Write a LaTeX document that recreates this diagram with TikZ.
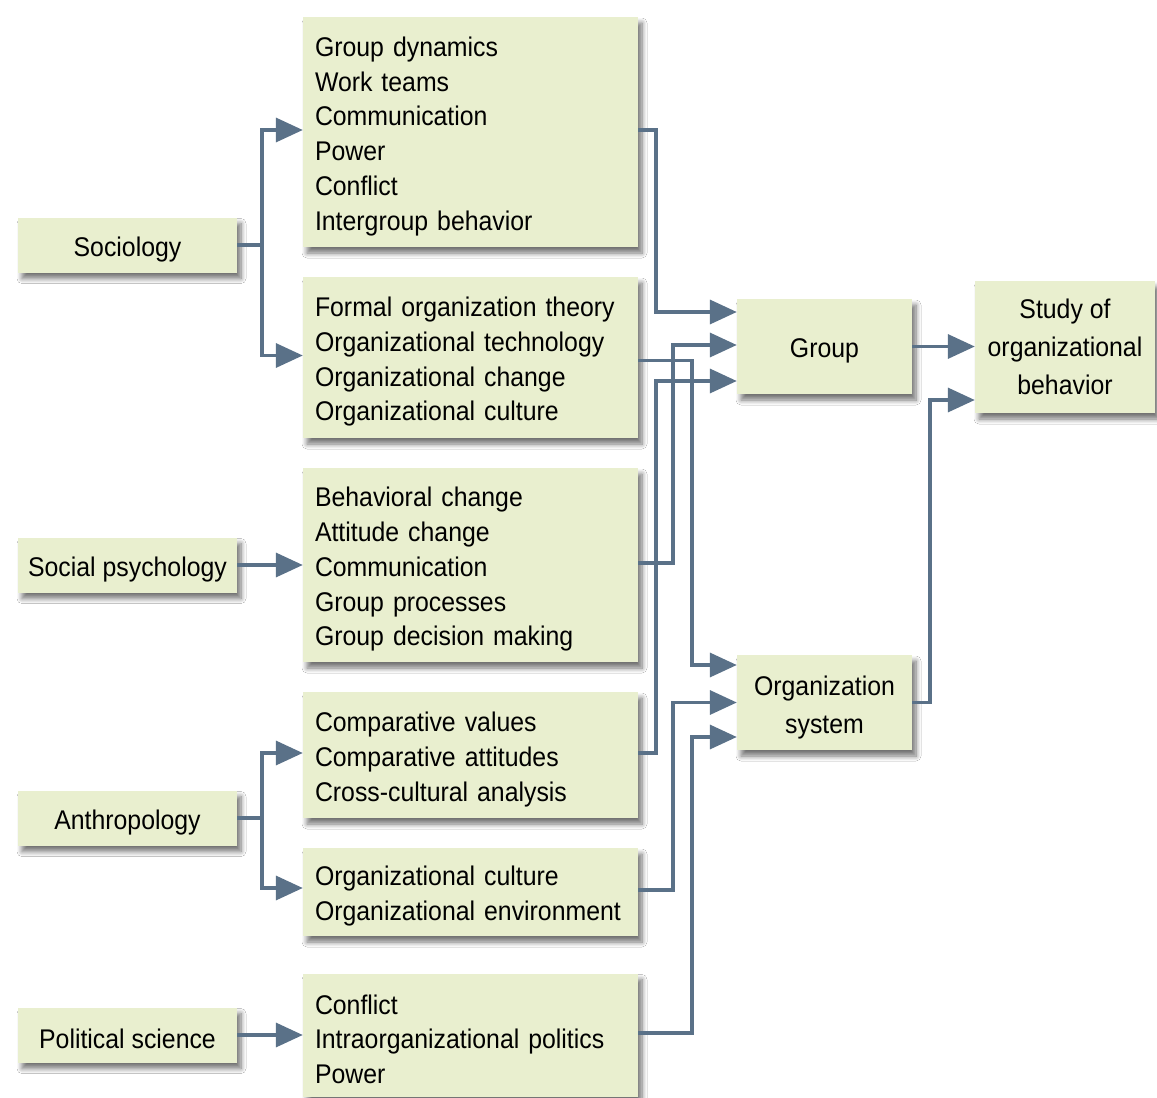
\documentclass[tikz,border=0pt]{standalone}
\usepackage{fontspec}
\setmainfont[FakeStretch=0.92]{Liberation Sans}
\usetikzlibrary{arrows.meta,shadows.blur}
\definecolor{boxfill}{RGB}{233,239,207}
\definecolor{linkcol}{RGB}{90,113,136}
\begin{document}
\begin{tikzpicture}[x=1pt,y=-1pt,
  box/.style={draw=none,fill=boxfill,
    blur shadow={shadow xshift=4pt,shadow yshift=-6pt,shadow blur radius=5pt,
      shadow opacity=55,shadow blur steps=8},
    font=\fontsize{27}{34.8}\selectfont,inner sep=0pt,
    execute at begin node={\rule{0pt}{28pt}}},
  srcbox/.style={box,minimum width=219pt,minimum height=55pt,align=center,
    execute at begin node={\rule{0pt}{24pt}}},
  topicbox/.style={box,minimum width=335pt,text width=311pt,align=left},
  outbox/.style={box,minimum width=175pt,minimum height=95pt,align=center,
    font=\fontsize{27}{38}\selectfont},
  conn/.style={draw=linkcol,line width=3.5pt,
    -{Triangle[length=27pt,width=24pt]}},
  link/.style={draw=linkcol,line width=3.5pt}]

\useasboundingbox[fill=white] (0,0) rectangle (1157,1098);

% source disciplines
\node[srcbox] (soc)    at (127.5,245)  {Sociology};
\node[srcbox] (socpsy) at (127.5,565)  {Social psychology};
\node[srcbox] (anth)   at (127.5,818)  {Anthropology};
\node[srcbox] (polsci) at (127.5,1035) {Political science};

% topics contributed by each discipline
\node[topicbox,minimum height=230pt] (gd) at (470.5,132)
  {Group dynamics\\Work teams\\Communication\\Power\\Conflict\\Intergroup behavior};
\node[topicbox,minimum height=161pt] (forg) at (470.5,357.5)
  {Formal organization theory\\Organizational technology\\Organizational change\\Organizational culture};
\node[topicbox,minimum height=194pt] (beh) at (470.5,565)
  {Behavioral change\\Attitude change\\Communication\\Group processes\\Group decision making};
\node[topicbox,minimum height=126pt] (comp) at (470.5,755)
  {Comparative values\\Comparative attitudes\\Cross-cultural analysis};
\node[topicbox,minimum height=88pt] (cult) at (470.5,892)
  {Organizational culture\\Organizational environment};
\node[topicbox,minimum height=123pt] (pol) at (470.5,1035)
  {Conflict\\Intraorganizational politics\\Power};

% units of analysis and outcome
\node[outbox] (group)  at (824.5,346.5) {Group};
\node[outbox] (orgsys) at (824.5,702.5) {\rule{0pt}{30pt}Organization\\system};
\node[box,minimum width=180pt,minimum height=132pt,align=center,
  font=\fontsize{27}{38}\selectfont] (study) at (1065,347)
  {Study of\\organizational\\behavior};

% entry points on the unit boxes
\coordinate (g1) at ([yshift=34.5pt]group.west);
\coordinate (g2) at ([yshift=1.5pt]group.west);
\coordinate (g3) at ([yshift=-34.5pt]group.west);
\coordinate (o1) at ([yshift=37.5pt]orgsys.west);
\coordinate (o2) at ([yshift=0pt]orgsys.west);
\coordinate (o3) at ([yshift=-34.5pt]orgsys.west);
\coordinate (s2) at ([yshift=-53pt]study.west);

% discipline -> topics
\draw[link] (soc.east) -- ++(25,0) coordinate (sj);
\draw[conn] (sj) |- ([yshift=2pt]gd.west);
\draw[conn] (sj) |- ([yshift=2pt]forg.west);
\draw[conn] (socpsy.east) -- (socpsy.east -| beh.west);
\draw[link] (anth.east) -- ++(25,0) coordinate (aj);
\draw[conn] (aj) |- ([yshift=2pt]comp.west);
\draw[conn] (aj) |- ([yshift=4pt]cult.west);
\draw[conn] (polsci.east) -- (polsci.east -| pol.west);

% topics -> units
\draw[conn] ([yshift=2pt]gd.east) -- ++(18,0) |- (g1);
\draw[conn] ([yshift=-3pt]forg.east) -- ++(54,0) |- (o1);
\draw[conn] ([yshift=2pt]beh.east) -- ++(35,0) |- (g2);
\draw[conn] ([yshift=2pt]comp.east) -- ++(18,0) |- (g3);
\draw[conn] ([yshift=2pt]cult.east) -- ++(35,0) |- (o2);
\draw[conn] ([yshift=2pt]pol.east) -- ++(54,0) |- (o3);

% units -> study
\draw[conn] (group.east) -- (group.east -| study.west);
\draw[conn] (orgsys.east) -- ++(18,0) |- (s2);
\end{tikzpicture}
\end{document}
